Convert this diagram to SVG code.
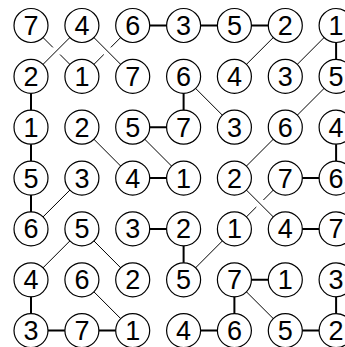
<svg xmlns="http://www.w3.org/2000/svg" width="345" height="347" viewBox="0 0 345 347">
<style>
.bg{fill:#fff}
.thick{stroke:#000;stroke-width:2;fill:none}
.thin{stroke:#000;stroke-width:1;fill:none}
.node circle{fill:#fff;stroke:#000;stroke-width:1.2}
.node text{font-family:"Liberation Sans",Arial,sans-serif;font-size:27px;text-anchor:middle;fill:#000}
</style>
<rect class="bg" x="0" y="0" width="345" height="347"/>
<g id="connectors">
<line class="thick" x1="132.7" y1="25.5" x2="183.6" y2="25.5"/>
<line class="thick" x1="183.6" y1="25.5" x2="234.4" y2="25.5"/>
<line class="thick" x1="234.4" y1="25.5" x2="285.3" y2="25.5"/>
<line class="thick" x1="132.7" y1="127.2" x2="183.6" y2="127.2"/>
<line class="thick" x1="132.7" y1="178.1" x2="183.6" y2="178.1"/>
<line class="thick" x1="285.3" y1="178.1" x2="336.1" y2="178.1"/>
<line class="thick" x1="132.7" y1="228.9" x2="183.6" y2="228.9"/>
<line class="thick" x1="285.3" y1="228.9" x2="336.1" y2="228.9"/>
<line class="thick" x1="234.4" y1="279.8" x2="285.3" y2="279.8"/>
<line class="thick" x1="31" y1="330.6" x2="81.9" y2="330.6"/>
<line class="thick" x1="81.9" y1="330.6" x2="132.7" y2="330.6"/>
<line class="thick" x1="183.6" y1="330.6" x2="234.4" y2="330.6"/>
<line class="thick" x1="285.3" y1="330.6" x2="336.1" y2="330.6"/>
<line class="thick" x1="31" y1="76.4" x2="31" y2="127.2"/>
<line class="thick" x1="31" y1="127.2" x2="31" y2="178.1"/>
<line class="thick" x1="31" y1="178.1" x2="31" y2="228.9"/>
<line class="thick" x1="31" y1="279.8" x2="31" y2="330.6"/>
<line class="thick" x1="183.6" y1="76.4" x2="183.6" y2="127.2"/>
<line class="thick" x1="183.6" y1="228.9" x2="183.6" y2="279.8"/>
<line class="thick" x1="234.4" y1="279.8" x2="234.4" y2="330.6"/>
<line class="thick" x1="336.1" y1="25.5" x2="336.1" y2="76.4"/>
<line class="thick" x1="336.1" y1="127.2" x2="336.1" y2="178.1"/>
<line class="thick" x1="336.1" y1="279.8" x2="336.1" y2="330.6"/>
<line class="thin" x1="81.9" y1="25.5" x2="31" y2="76.4"/>
<line class="thin" x1="81.9" y1="25.5" x2="132.7" y2="76.4"/>
<line class="thin" x1="285.3" y1="25.5" x2="234.4" y2="76.4"/>
<line class="thin" x1="336.1" y1="25.5" x2="285.3" y2="76.4"/>
<line class="thin" x1="183.6" y1="76.4" x2="234.4" y2="127.2"/>
<line class="thin" x1="336.1" y1="76.4" x2="285.3" y2="127.2"/>
<line class="thin" x1="81.9" y1="127.2" x2="132.7" y2="178.1"/>
<line class="thin" x1="132.7" y1="127.2" x2="183.6" y2="178.1"/>
<line class="thin" x1="285.3" y1="127.2" x2="234.4" y2="178.1"/>
<line class="thin" x1="81.9" y1="178.1" x2="31" y2="228.9"/>
<line class="thin" x1="234.4" y1="178.1" x2="285.3" y2="228.9"/>
<line class="thin" x1="81.9" y1="228.9" x2="31" y2="279.8"/>
<line class="thin" x1="81.9" y1="228.9" x2="132.7" y2="279.8"/>
<line class="thin" x1="234.4" y1="228.9" x2="183.6" y2="279.8"/>
<line class="thin" x1="81.9" y1="279.8" x2="132.7" y2="330.6"/>
<line class="thin" x1="234.4" y1="279.8" x2="285.3" y2="330.6"/>
<line class="thin" x1="31" y1="25.5" x2="52.9" y2="47.4"/>
<line class="thin" x1="60" y1="54.5" x2="81.9" y2="76.4"/>
<line class="thin" x1="132.7" y1="25.5" x2="110.8" y2="47.4"/>
<line class="thin" x1="103.8" y1="54.5" x2="81.9" y2="76.4"/>
<line class="thin" x1="285.3" y1="178.1" x2="263.4" y2="200"/>
<line class="thin" x1="256.3" y1="207" x2="234.4" y2="228.9"/>
</g>
<g id="n-r1c1" class="node"><circle cx="31" cy="25.5" r="17"/><text x="31" y="35">7</text></g>
<g id="n-r1c2" class="node"><circle cx="81.9" cy="25.5" r="17"/><text x="81.9" y="35">4</text></g>
<g id="n-r1c3" class="node"><circle cx="132.7" cy="25.5" r="17"/><text x="132.7" y="35">6</text></g>
<g id="n-r1c4" class="node"><circle cx="183.6" cy="25.5" r="17"/><text x="183.6" y="35">3</text></g>
<g id="n-r1c5" class="node"><circle cx="234.4" cy="25.5" r="17"/><text x="234.4" y="35">5</text></g>
<g id="n-r1c6" class="node"><circle cx="285.3" cy="25.5" r="17"/><text x="285.3" y="35">2</text></g>
<g id="n-r1c7" class="node"><circle cx="336.1" cy="25.5" r="17"/><text x="336.1" y="35">1</text></g>
<g id="n-r2c1" class="node"><circle cx="31" cy="76.4" r="17"/><text x="31" y="85.9">2</text></g>
<g id="n-r2c2" class="node"><circle cx="81.9" cy="76.4" r="17"/><text x="81.9" y="85.9">1</text></g>
<g id="n-r2c3" class="node"><circle cx="132.7" cy="76.4" r="17"/><text x="132.7" y="85.9">7</text></g>
<g id="n-r2c4" class="node"><circle cx="183.6" cy="76.4" r="17"/><text x="183.6" y="85.9">6</text></g>
<g id="n-r2c5" class="node"><circle cx="234.4" cy="76.4" r="17"/><text x="234.4" y="85.9">4</text></g>
<g id="n-r2c6" class="node"><circle cx="285.3" cy="76.4" r="17"/><text x="285.3" y="85.9">3</text></g>
<g id="n-r2c7" class="node"><circle cx="336.1" cy="76.4" r="17"/><text x="336.1" y="85.9">5</text></g>
<g id="n-r3c1" class="node"><circle cx="31" cy="127.2" r="17"/><text x="31" y="136.7">1</text></g>
<g id="n-r3c2" class="node"><circle cx="81.9" cy="127.2" r="17"/><text x="81.9" y="136.7">2</text></g>
<g id="n-r3c3" class="node"><circle cx="132.7" cy="127.2" r="17"/><text x="132.7" y="136.7">5</text></g>
<g id="n-r3c4" class="node"><circle cx="183.6" cy="127.2" r="17"/><text x="183.6" y="136.7">7</text></g>
<g id="n-r3c5" class="node"><circle cx="234.4" cy="127.2" r="17"/><text x="234.4" y="136.7">3</text></g>
<g id="n-r3c6" class="node"><circle cx="285.3" cy="127.2" r="17"/><text x="285.3" y="136.7">6</text></g>
<g id="n-r3c7" class="node"><circle cx="336.1" cy="127.2" r="17"/><text x="336.1" y="136.7">4</text></g>
<g id="n-r4c1" class="node"><circle cx="31" cy="178.1" r="17"/><text x="31" y="187.6">5</text></g>
<g id="n-r4c2" class="node"><circle cx="81.9" cy="178.1" r="17"/><text x="81.9" y="187.6">3</text></g>
<g id="n-r4c3" class="node"><circle cx="132.7" cy="178.1" r="17"/><text x="132.7" y="187.6">4</text></g>
<g id="n-r4c4" class="node"><circle cx="183.6" cy="178.1" r="17"/><text x="183.6" y="187.6">1</text></g>
<g id="n-r4c5" class="node"><circle cx="234.4" cy="178.1" r="17"/><text x="234.4" y="187.6">2</text></g>
<g id="n-r4c6" class="node"><circle cx="285.3" cy="178.1" r="17"/><text x="285.3" y="187.6">7</text></g>
<g id="n-r4c7" class="node"><circle cx="336.1" cy="178.1" r="17"/><text x="336.1" y="187.6">6</text></g>
<g id="n-r5c1" class="node"><circle cx="31" cy="228.9" r="17"/><text x="31" y="238.4">6</text></g>
<g id="n-r5c2" class="node"><circle cx="81.9" cy="228.9" r="17"/><text x="81.9" y="238.4">5</text></g>
<g id="n-r5c3" class="node"><circle cx="132.7" cy="228.9" r="17"/><text x="132.7" y="238.4">3</text></g>
<g id="n-r5c4" class="node"><circle cx="183.6" cy="228.9" r="17"/><text x="183.6" y="238.4">2</text></g>
<g id="n-r5c5" class="node"><circle cx="234.4" cy="228.9" r="17"/><text x="234.4" y="238.4">1</text></g>
<g id="n-r5c6" class="node"><circle cx="285.3" cy="228.9" r="17"/><text x="285.3" y="238.4">4</text></g>
<g id="n-r5c7" class="node"><circle cx="336.1" cy="228.9" r="17"/><text x="336.1" y="238.4">7</text></g>
<g id="n-r6c1" class="node"><circle cx="31" cy="279.8" r="17"/><text x="31" y="289.3">4</text></g>
<g id="n-r6c2" class="node"><circle cx="81.9" cy="279.8" r="17"/><text x="81.9" y="289.3">6</text></g>
<g id="n-r6c3" class="node"><circle cx="132.7" cy="279.8" r="17"/><text x="132.7" y="289.3">2</text></g>
<g id="n-r6c4" class="node"><circle cx="183.6" cy="279.8" r="17"/><text x="183.6" y="289.3">5</text></g>
<g id="n-r6c5" class="node"><circle cx="234.4" cy="279.8" r="17"/><text x="234.4" y="289.3">7</text></g>
<g id="n-r6c6" class="node"><circle cx="285.3" cy="279.8" r="17"/><text x="285.3" y="289.3">1</text></g>
<g id="n-r6c7" class="node"><circle cx="336.1" cy="279.8" r="17"/><text x="336.1" y="289.3">3</text></g>
<g id="n-r7c1" class="node"><circle cx="31" cy="330.6" r="17"/><text x="31" y="340.1">3</text></g>
<g id="n-r7c2" class="node"><circle cx="81.9" cy="330.6" r="17"/><text x="81.9" y="340.1">7</text></g>
<g id="n-r7c3" class="node"><circle cx="132.7" cy="330.6" r="17"/><text x="132.7" y="340.1">1</text></g>
<g id="n-r7c4" class="node"><circle cx="183.6" cy="330.6" r="17"/><text x="183.6" y="340.1">4</text></g>
<g id="n-r7c5" class="node"><circle cx="234.4" cy="330.6" r="17"/><text x="234.4" y="340.1">6</text></g>
<g id="n-r7c6" class="node"><circle cx="285.3" cy="330.6" r="17"/><text x="285.3" y="340.1">5</text></g>
<g id="n-r7c7" class="node"><circle cx="336.1" cy="330.6" r="17"/><text x="336.1" y="340.1">2</text></g>
</svg>
